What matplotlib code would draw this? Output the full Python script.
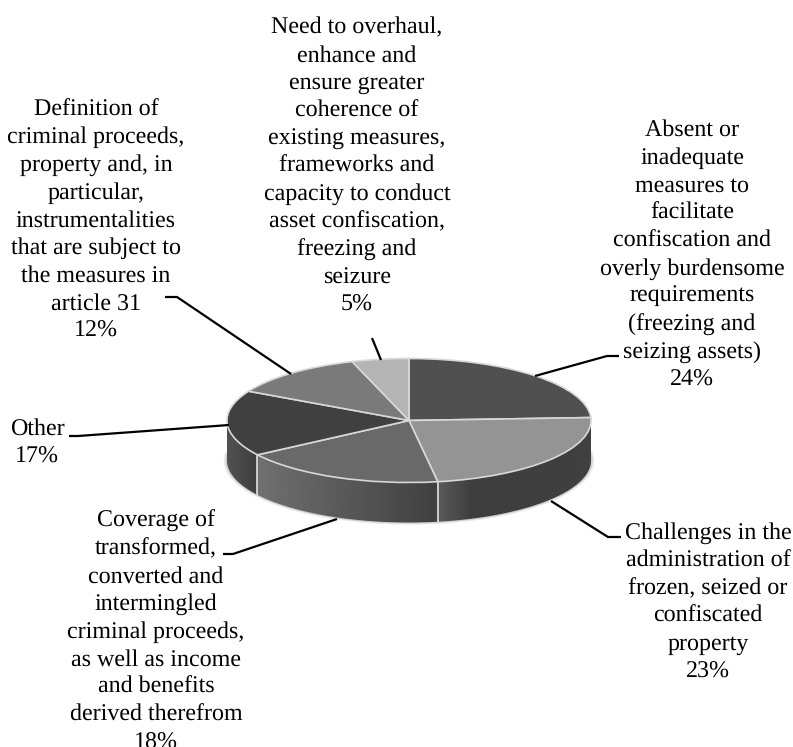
import numpy as np
import matplotlib
matplotlib.use("Agg")
import matplotlib.pyplot as plt
from matplotlib.patches import Polygon

W, H = 793, 747

# Data
shares = [24, 23, 18, 17, 12, 5]
labels = [
    "Absent or\ninadequate\nmeasures to\nfacilitate\nconfiscation and\noverly burdensome\nrequirements\n(freezing and\nseizing assets)\n24%",
    "Challenges in the\nadministration of\nfrozen, seized or\nconfiscated\nproperty\n23%",
    "Coverage of\ntransformed,\nconverted and\nintermingled\ncriminal proceeds,\nas well as income\nand benefits\nderived therefrom\n18%",
    "Other\n17%",
    "Definition of\ncriminal proceeds,\nproperty and, in\nparticular,\ninstrumentalities\nthat are subject to\nthe measures in\narticle 31\n12%",
    "Need to overhaul,\nenhance and\nensure greater\ncoherence of\nexisting measures,\nframeworks and\ncapacity to conduct\nasset confiscation,\nfreezing and\nseizure\n5%",
]
top_colors = ["#505050", "#949494", "#696969", "#404040", "#7a7a7a", "#b4b4b4"]

# Layout in pixels
cx, cy, rx, ry, depth = 409, 420.5, 182, 62, 40
label_xy = [(692, 119.5), (708, 522), (156, 510), (37, 418.5), (96, 99), (357, 17)]
leaders = [
    [(535, 376), (607, 356), (619, 356)],
    [(551, 501), (608, 537), (621, 537)],
    [(337, 519), (233, 554), (223, 554)],
    [(229, 425), (78, 436), (69, 436)],
    [(291, 374), (177, 297), (165, 297)],
    [(381, 360), (372, 338)],
]

plt.rcParams["font.family"] = ["Liberation Serif", "DejaVu Serif"]
plt.rcParams["text.hinting"] = "no_hinting"
plt.rcParams["text.hinting_factor"] = 1
fig = plt.figure(figsize=(W / 100, H / 100), dpi=100)

# pie axes, in units of the ellipse radii
ax = fig.add_axes([0, 0, 1, 1])
wedges, _ = ax.pie(shares, startangle=90, counterclock=False, colors=top_colors,
                   wedgeprops=dict(edgecolor="#d8d8d8", linewidth=1.2, zorder=5))
ax.set_aspect("auto")
ax.axis("off")
d = depth / ry


def rim(t1, t2):
    # front wall between two angles (degrees, counter clockwise)
    t = np.radians(np.linspace(t1, t2, 60))
    x, y = np.cos(t), np.sin(t)
    return np.r_[np.c_[x, y], np.c_[x[::-1], y[::-1] - d]]


# soft shadow round the lower edge
for grow, col in [(0.018, "#ececec"), (0.009, "#cfcfcf")]:
    t = np.radians(np.linspace(172, 368, 100))
    pts = np.c_[(1 + grow) * np.cos(t), (1 + grow * 2) * np.sin(t) - d]
    ax.add_patch(Polygon(pts, closed=True, fc=col, ec="none", zorder=1))

# front walls, one per visible slice, shaded left to right
wall_shades = {1: ("#5a5a5a", "#3e3e3e", "#404040"),
               2: ("#707070", "#585858", "#404040"),
               3: ("#525252", "#484848", "#3e3e3e")}
for i, shade in wall_shades.items():
    w = wedges[i]
    t1, t2 = max(w.theta1, -180), min(w.theta2, 0)
    pts = rim(t1, t2)
    poly = Polygon(pts, closed=True, fc="none", ec="none", zorder=2)
    ax.add_patch(poly)
    xs = np.cos(np.radians([t1, t2]))
    x0, x1 = xs.min(), xs.max()
    ramp = [int(c[1:3], 16) for c in shade]
    stops = [0, 0.22, 1] if i == 1 else [0, 0.5, 1]
    g = np.interp(np.linspace(0, 1, 256), stops, ramp).reshape(1, -1)
    im = ax.imshow(g, cmap="gray", vmin=0, vmax=255, aspect="auto",
                   extent=(x0, x1, -2, 2), zorder=3)
    im.set_clip_path(poly)

# white seams on the wall
for i in (1, 2):
    a = np.radians(wedges[i].theta1)
    ax.plot([np.cos(a)] * 2, [np.sin(a), np.sin(a) - d], color="#e0e0e0", lw=1.2, zorder=4)

ax.set_xlim(-cx / rx, (W - cx) / rx)
ax.set_ylim(-(H - cy) / ry, cy / ry)

# pixel axes for labels and leader lines
top = fig.add_axes([0, 0, 1, 1])
top.set_xlim(0, W)
top.set_ylim(H, 0)
top.axis("off")
for pts in leaders:
    xs, ys = zip(*pts)
    top.plot(xs, ys, color="black", lw=1.6, solid_joinstyle="miter", solid_capstyle="butt")
for text, (x, y) in zip(labels, label_xy):
    top.text(x, y, text, ha="center", va="top", fontsize=17.2, linespacing=1.355, color="black")

fig.savefig("out.png", dpi=100)
